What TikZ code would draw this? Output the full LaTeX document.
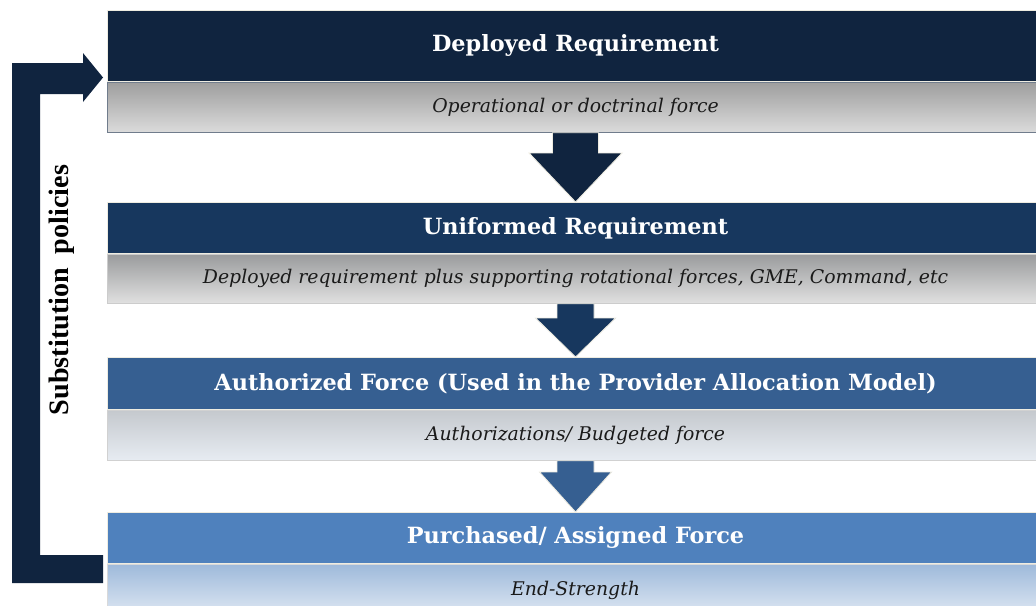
\documentclass[tikz,border=0pt]{standalone}
\usepackage{fontspec}
\setmainfont{DejaVu Serif}
\newfontfamily\timesfont{Liberation Serif}
\usetikzlibrary{positioning, calc}

\definecolor{navyA}{HTML}{10243F}
\definecolor{navyB}{HTML}{17375E}
\definecolor{blueC}{HTML}{365F91}
\definecolor{blueD}{HTML}{4F81BD}
\definecolor{rim}{HTML}{EEECE1}
\definecolor{subtext}{HTML}{1A1A1A}

\tikzset{
  headbar/.style={anchor=north west, minimum width=23.4cm, inner sep=0pt,
    draw=rim, line width=0.6pt, text=white,
    font=\bfseries\fontsize{15.9}{18}\selectfont},
  subbar/.style={minimum width=23.4cm, inner sep=0pt, draw=#1, line width=0.6pt,
    text=subtext, font=\itshape\fontsize{13.4}{15}\selectfont},
  flowarrow/.style={draw=rim, line width=0.6pt}
}

\begin{document}
\begin{tikzpicture}[x=0.025cm, y=-0.025cm]
    % Page frame
    \clip (0,0) rectangle (1036,605);
    \fill[white] (0,0) rectangle (1036,605);

    % Level headers
    \node[headbar, fill=navyA, minimum height=1.775cm] (head1) at (107,10) {\raisebox{2pt}{Deployed Requirement}};
    \node[headbar, fill=navyB, minimum height=1.275cm] (head2) at (107,202) {Uniformed Requirement};
    \node[headbar, fill=blueC, minimum height=1.3cm] (head3) at (107,357) {Authorized Force (Used in the Provider Allocation Model)};
    \node[headbar, fill=blueD, minimum height=1.275cm] (head4) at (107,512) {Purchased/ Assigned Force};

    % Descriptions under each header
    \node[subbar=navyA!60, below=0pt of head1, minimum height=1.25cm,
          top color=black!38, bottom color=black!14] (sub1) {Operational or doctrinal force};
    \node[subbar=black!20, below=0pt of head2, minimum height=1.225cm,
          top color=navyB!10!black!40, bottom color=black!12] (sub2) {Deployed requirement plus supporting rotational forces, GME, Command, etc};
    \node[subbar=black!18, below=0pt of head3, minimum height=1.25cm,
          top color=blueC!40!black!25!white, bottom color=blueC!12!white] (sub3) {Authorizations/ Budgeted force};
    \node[subbar=black!15, below=0pt of head4, minimum height=1.3cm,
          top color=blueD!55!white, bottom color=blueD!18!white] (sub4) {End-Strength};

    % Block arrows between the levels
    \filldraw[flowarrow, fill=navyA] ($(sub1.south)+(-23,0)$) -- ($(sub1.south)+(23,0)$)
        -- ($(head2.north)+(23,-49)$) -- ($(head2.north)+(46.5,-49)$) -- (head2.north)
        -- ($(head2.north)+(-46.5,-49)$) -- ($(head2.north)+(-23,-49)$) -- cycle;
    \filldraw[flowarrow, fill=navyB] ($(sub2.south)+(-18.5,0)$) -- ($(sub2.south)+(18.5,0)$)
        -- ($(head3.north)+(18.5,-39)$) -- ($(head3.north)+(40,-39)$) -- (head3.north)
        -- ($(head3.north)+(-40,-39)$) -- ($(head3.north)+(-18.5,-39)$) -- cycle;
    \filldraw[flowarrow, fill=blueC] ($(sub3.south)+(-18.5,0)$) -- ($(sub3.south)+(18.5,0)$)
        -- ($(head4.north)+(18.5,-40)$) -- ($(head4.north)+(36,-40)$) -- (head4.north)
        -- ($(head4.north)+(-36,-40)$) -- ($(head4.north)+(-18.5,-40)$) -- cycle;

    % Feedback loop on the left
    \coordinate (loopout) at (103,569);
    \coordinate (loopin) at (103,77.5);
    \fill[navyA] ($(loopout)+(0,-14)$) -- ($(loopout)+(0,14)$) -- (12,583) -- (12,63)
        -- ($(loopin)+(-20,-14.5)$) -- ($(loopin)+(-20,-24.5)$) -- (loopin)
        -- ($(loopin)+(-20,24.5)$) -- ($(loopin)+(-20,16.5)$) -- (40,94) -- (40,555) -- cycle;
    \node[rotate=90, font=\timesfont\bfseries\fontsize{20}{24}\selectfont] (loopnote) at (62,290) {Substitution\ \ policies};
\end{tikzpicture}
\end{document}
